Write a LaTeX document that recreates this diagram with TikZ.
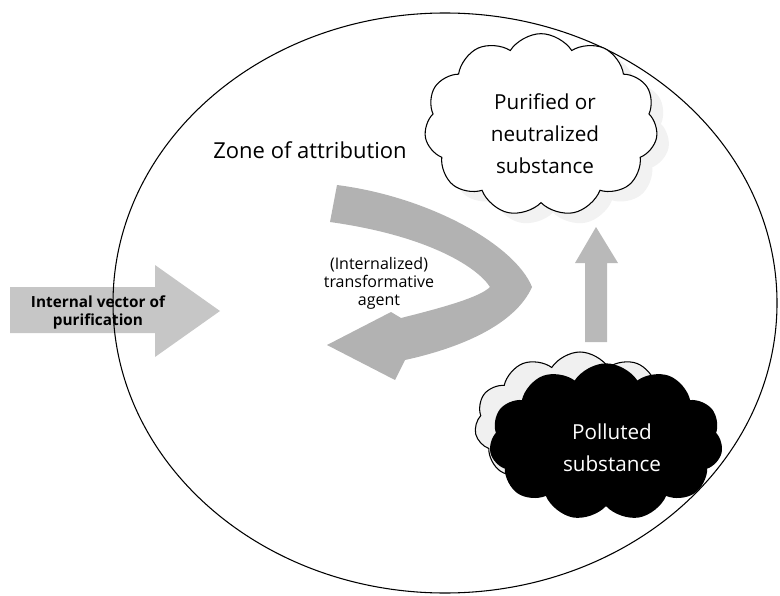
\documentclass[tikz,border=0pt]{standalone}
\usepackage{fontspec}
\setmainfont{Open Sans}
\usetikzlibrary{shapes.symbols}
\begin{document}
\begin{tikzpicture}[x=0.75pt,y=-0.75pt,
  lbl/.style={align=center,inner sep=0pt},
  cloudbox/.style={cloud,cloud puffs=11,cloud puff arc=115,aspect=1.5,inner sep=0pt,line width=0.8pt},
  bandfill/.style={fill=gray!60,draw=none}]
\useasboundingbox (0,0) rectangle (780,595);
% incoming arrow
\fill[gray!45] (10,287) -- (155,287) -- (155,265) -- (220,311) -- (155,357) -- (155,333) -- (10,333) -- cycle;
% zone ellipse
\draw[line width=0.8pt] (445,303) ellipse [x radius=332, y radius=290];
\node[lbl,font=\bfseries\fontsize{11.5}{13.5}\selectfont] (vec) at (98,312) {Internal vector of\\purification};
% zone label
\node[lbl,font=\fontsize{16.5}{20}\selectfont] (zone) at (310,150) {Zone of attribution};
% curved arrow
\fill[bandfill] (337,185) .. controls (430,197) and (515,245) .. (532,287)
  .. controls (515,325) and (460,348) .. (405,360) -- (395,380) -- (327,345) -- (391,312) -- (401,318)
  .. controls (445,307) and (480,297) .. (490,287)
  .. controls (478,268) and (430,236) .. (330,222) -- cycle;
\node[lbl,font=\fontsize{12}{13.5}\selectfont] (agent) at (379,283) {(Internalized)\\transformative\\agent};
% top cloud
\node[cloudbox,fill=gray!10,minimum width=175pt,minimum height=137pt] (topsh) at (553,135) {};
\node[cloudbox,draw,fill=white,minimum width=175pt,minimum height=137pt] (top) at (541,125) {};
\node[lbl,font=\fontsize{15.5}{24}\selectfont] (toptext) at (545,134) {Purified or\\neutralized\\substance};
% up arrow
\fill[gray!55] (585,342) -- (585,263) -- (575,263) -- (596,227) -- (618,263) -- (607,263) -- (607,342) -- cycle;
% bottom clouds
\node[cloudbox,draw,fill=gray!12,minimum width=158pt,minimum height=108pt] (back) at (580,424) {};
\node[cloudbox,fill=black,minimum width=175pt,minimum height=118pt] (pol) at (606,442) {};
\node[lbl,text=white,font=\fontsize{15.5}{24}\selectfont] (poltext) at (612,448) {Polluted\\substance};
\end{tikzpicture}
\end{document}
